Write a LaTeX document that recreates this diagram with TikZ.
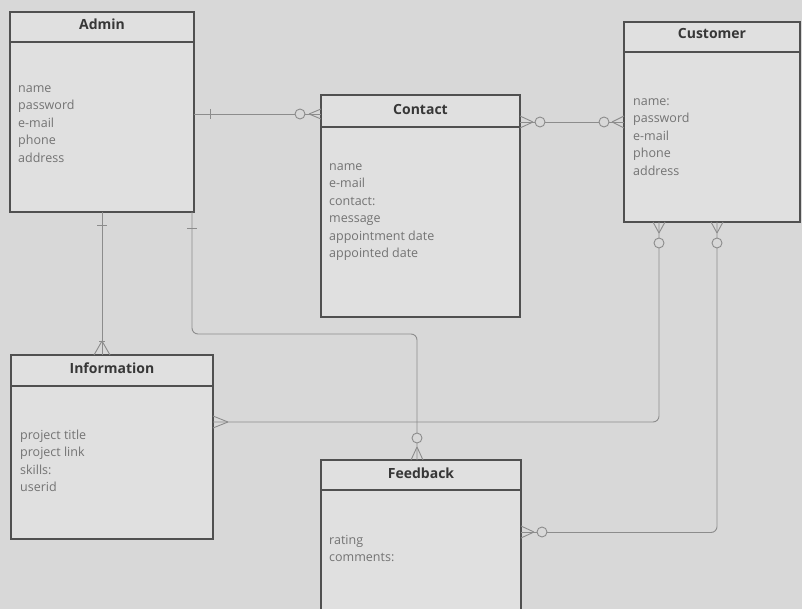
\documentclass[tikz,border=0pt]{standalone}
\usepackage{fontspec}
\setmainfont{Open Sans}
\definecolor{bgc}{RGB}{216,216,216}
\definecolor{boxf}{RGB}{224,224,224}
\definecolor{boxc}{RGB}{80,80,80}
\definecolor{connc}{RGB}{140,140,140}
\definecolor{attrc}{RGB}{115,115,115}
\definecolor{titlec}{RGB}{55,55,55}
\begin{document}
\begin{tikzpicture}[x=1pt,y=-1pt,
  box/.style={draw=boxc, line width=1.2pt, fill=boxf, anchor=north west, inner sep=0pt, outer sep=0pt},
  hdr/.style={draw=boxc, line width=1.2pt},
  ttl/.style={font=\bfseries\fontsize{14}{16}\selectfont, text=titlec},
  attr/.style={font=\fontsize{12.5}{17.5}\selectfont, text=attrc, align=left, anchor=north west, inner sep=0pt},
  conn/.style={draw=connc, line width=0.9pt, rounded corners=6pt},
  endmark/.style={draw=connc, line width=0.9pt},
  ring/.style={circle, draw=connc, line width=0.9pt, fill=bgc, minimum size=10pt, inner sep=0pt}
]
\fill[bgc] (0,0) rectangle (802,609);
\clip (0,0) rectangle (802,609);

% ---------- entities ----------
\node[box, minimum width=184pt, minimum height=200pt] (admin) at (10,12) {};
\draw[hdr] ([yshift=-30pt]admin.north west) -- ([yshift=-30pt]admin.north east);
\node[ttl] (admint) at ([yshift=-12pt]admin.north) {Admin};
\node[attr] (admina) at ([xshift=8pt,yshift=-68pt]admin.north west)
  {\strut name\\password\\e-mail\\phone\\address};

\node[box, minimum width=199pt, minimum height=222pt] (contact) at (321,95) {};
\draw[hdr] ([yshift=-32pt]contact.north west) -- ([yshift=-32pt]contact.north east);
\node[ttl] (contactt) at ([yshift=-15pt]contact.north) {Contact};
\node[attr] (contacta) at ([xshift=8pt,yshift=-63pt]contact.north west)
  {\strut name\\e-mail\\contact:\\message\\appointment date\\appointed date};

\node[box, minimum width=176pt, minimum height=200pt] (customer) at (624,22) {};
\draw[hdr] ([yshift=-30pt]customer.north west) -- ([yshift=-30pt]customer.north east);
\node[ttl] (customert) at ([yshift=-12pt]customer.north) {Customer};
\node[attr] (customera) at ([xshift=9pt,yshift=-71pt]customer.north west)
  {\strut name:\\password\\e-mail\\phone\\address};

\node[box, minimum width=202pt, minimum height=184pt] (info) at (11,355) {};
\draw[hdr] ([yshift=-31pt]info.north west) -- ([yshift=-31pt]info.north east);
\node[ttl] (infot) at ([yshift=-13pt]info.north) {Information};
\node[attr] (infoa) at ([xshift=9pt,yshift=-72pt]info.north west)
  {\strut project title\\project link\\skills:\\userid};

\node[box, minimum width=200pt, minimum height=165pt] (feedback) at (321,460) {};
\draw[hdr] ([yshift=-30pt]feedback.north west) -- ([yshift=-30pt]feedback.north east);
\node[ttl] (feedbackt) at ([yshift=-13pt]feedback.north) {Feedback};
\node[attr] (feedbacka) at ([xshift=8pt,yshift=-72pt]feedback.north west)
  {\strut rating\\comments:};

% ---------- connectors ----------
\coordinate (b4) at (300,334);

% Admin -- Contact
\draw[conn] ([yshift=-2pt]admin.east) -- ([yshift=-2pt]admin.east -| contact.west);
\draw[endmark] (210,109) -- (210,119);
\draw[endmark] (309,114) -- (321,109) (309,114) -- (321,119);
\node[ring] (r1) at (300,114) {};

% Contact -- Customer
\draw[conn] (customer.west -| contact.east) -- (customer.west);
\draw[endmark] (533,122) -- (520,116) (533,122) -- (520,128);
\node[ring] (r2a) at (540,122) {};
\draw[endmark] (612,122) -- (624,116) (612,122) -- (624,128);
\node[ring] (r2b) at (604,122) {};

% Admin -- Information
\draw[conn] (admin.south) -- (admin.south |- info.north);
\draw[endmark] (97,225) -- (107,225);
\draw[endmark] (102,341) -- (94,355) (102,341) -- (110,355);
\draw[endmark] (99,341) -- (105,341);

% Admin -- Feedback
\draw[conn] ([xshift=-2pt]admin.south east) |- (b4) -| ([xshift=-4pt]feedback.north);
\draw[endmark] (187,228) -- (197,228);
\draw[endmark] (417,447) -- (411,460) (417,447) -- (423,460);
\node[ring] (r4) at (417,438) {};

% Customer -- Information
\draw[conn] ([xshift=35pt]customer.south west) |- ([yshift=25pt]info.east);
\draw[endmark] (659,233) -- (653,222) (659,233) -- (665,222);
\node[ring] (r5) at (659,243) {};
\draw[endmark] (228,422) -- (213,416) (228,422) -- (213,428);

% Customer -- Feedback
\draw[conn] ([xshift=93pt]customer.south west) |- ([yshift=10pt]feedback.east);
\draw[endmark] (717,233) -- (711,222) (717,233) -- (723,222);
\node[ring] (r6a) at (717,243) {};
\draw[endmark] (534,532) -- (521,526) (534,532) -- (521,538);
\node[ring] (r6b) at (542,532) {};
\end{tikzpicture}
\end{document}
